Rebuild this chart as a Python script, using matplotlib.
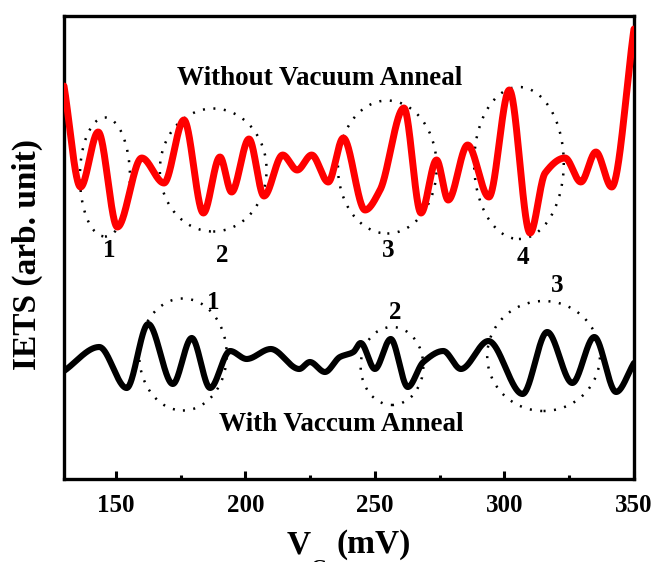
import numpy as np
import matplotlib
matplotlib.use("Agg")
import matplotlib.pyplot as plt
from matplotlib.patches import Ellipse
from matplotlib.ticker import MultipleLocator

plt.rcParams["font.family"] = ["Liberation Serif", "DejaVu Serif"]
plt.rcParams["font.weight"] = "bold"

# Gate voltage (mV) and IETS signal (arb. unit) at the extrema / shoulders
vg_raw = [130.0, 136.4, 143.2, 150.6, 160.0, 168.6, 176.3, 183.8, 190.2, 194.7,
          201.4, 207.2, 214.4, 220.0, 225.6, 232.0, 237.8, 246.2, 252.0, 261.2,
          267.8, 273.8, 278.3, 285.8, 294.0, 301.9, 309.9, 315.7, 323.4, 329.5,
          335.3, 341.4, 350.0]
iets_raw = [3.93, 2.92, 3.47, 2.52, 3.21, 2.96, 3.59, 2.66, 3.22, 2.87,
            3.40, 2.83, 3.24, 3.09, 3.24, 2.97, 3.41, 2.69, 2.89, 3.71,
            2.66, 3.19, 2.79, 3.34, 2.82, 3.89, 2.46, 3.06, 3.21, 2.97,
            3.27, 2.92, 4.50]

vg_ann = [130.0, 143.6, 154.2, 162.5, 172.0, 179.3, 186.4, 194.1, 200.5, 209.8,
          220.8, 224.9, 230.7, 236.5, 241.7, 244.5, 250.0, 256.1, 262.7, 268.7,
          276.4, 283.2, 293.8, 307.0, 316.5, 326.2, 334.7, 343.1, 350.0]
iets_ann = [1.08, 1.32, 0.91, 1.55, 0.95, 1.41, 0.91, 1.28, 1.20, 1.30,
            1.10, 1.17, 1.07, 1.22, 1.27, 1.36, 1.10, 1.40, 0.92, 1.17,
            1.28, 1.10, 1.38, 0.85, 1.47, 0.96, 1.42, 0.87, 1.16]

# Peak groups: (centre V, centre signal, width mV, height, label, label V, label signal)
groups_raw = [
    (145.8, 3.02, 19.3, 1.19, "1", 147.5, 2.29),
    (187.6, 3.09, 41.2, 1.23, "2", 191.1, 2.24),
    (254.8, 3.12, 38.1, 1.33, "3", 255.2, 2.29),
    (305.6, 3.16, 34.6, 1.52, "4", 307.0, 2.22),
]
groups_ann = [
    (175.9, 1.245, 33.8, 1.12, "1", 187.6, 1.77),
    (256.6, 1.13, 24.2, 0.78, "2", 257.7, 1.67),
    (315.1, 1.23, 43.5, 1.10, "3", 320.4, 1.94),
]

x_ticks = [150, 200, 250, 300, 350]


def pchip(x, y, xn):
    """Shape-preserving cubic Hermite curve through (x, y)."""
    x = np.asarray(x, float)
    y = np.asarray(y, float)
    h = np.diff(x)
    d = np.diff(y) / h
    m = np.zeros_like(y)
    for k in range(1, len(x) - 1):
        if d[k - 1] * d[k] > 0:
            w1 = 2 * h[k] + h[k - 1]
            w2 = h[k] + 2 * h[k - 1]
            m[k] = (w1 + w2) / (w1 / d[k - 1] + w2 / d[k])
    m[0] = d[0]
    m[-1] = d[-1]
    idx = np.clip(np.searchsorted(x, xn) - 1, 0, len(x) - 2)
    t = (xn - x[idx]) / h[idx]
    h00 = 2 * t**3 - 3 * t**2 + 1
    h10 = t**3 - 2 * t**2 + t
    h01 = -2 * t**3 + 3 * t**2
    h11 = t**3 - t**2
    return (h00 * y[idx] + h10 * h[idx] * m[idx]
            + h01 * y[idx + 1] + h11 * h[idx] * m[idx + 1])


W, H = 655, 562
fig = plt.figure(figsize=(W / 100, H / 100), dpi=100)
ax = fig.add_axes([0.0977, 0.1477, 0.8702, 0.8238])

xs = np.linspace(130, 350, 1500)
ax.plot(xs, pchip(vg_raw, iets_raw, xs), color="#ff0000", lw=5.0,
        solid_capstyle="round", zorder=3)
ax.plot(xs, pchip(vg_ann, iets_ann, xs), color="black", lw=4.4,
        solid_capstyle="round", zorder=3)

for cx, cy, w, hgt, lab, lx, ly in groups_raw + groups_ann:
    ax.add_patch(Ellipse((cx, cy), w, hgt, fill=False, edgecolor="black",
                         lw=1.8, linestyle=(0, (0.8, 3.4)), zorder=2))
    ax.text(lx, ly, lab, fontsize=18, fontweight="bold", ha="center",
            va="center", zorder=4)

ax.text(228.6, 4.01, "Without Vacuum Anneal", fontsize=19.5,
        fontweight="bold", ha="center", va="center")
ax.text(237.1, 0.54, "With Vaccum Anneal", fontsize=19.5,
        fontweight="bold", ha="center", va="center")

ax.set_xlim(130, 350)
ax.set_ylim(0, 4.63)
ax.set_xticks(x_ticks)
ax.xaxis.set_minor_locator(MultipleLocator(25))
ax.set_yticks([])
ax.tick_params(axis="x", which="major", direction="in", length=6, width=2.2,
               labelsize=18, pad=11)
ax.tick_params(axis="x", which="minor", direction="in", length=3, width=2.2)
for lbl in ax.get_xticklabels():
    lbl.set_fontweight("bold")
for sp in ax.spines.values():
    sp.set_linewidth(2.4)

# Axis titles, placed in figure pixels (subscript G sits low under the V)
fig.text(287 / W, 1 - 553 / H, "V", fontsize=24, fontweight="bold",
         ha="left", va="baseline")
fig.text(311 / W, 1 - 574 / H, "G", fontsize=15, fontweight="bold",
         ha="left", va="baseline")
fig.text(336 / W, 1 - 553 / H, "(mV)", fontsize=24, fontweight="bold",
         ha="left", va="baseline")
fig.text(27 / W, 1 - 254 / H, "IETS (arb. unit)", fontsize=24,
         fontweight="bold", rotation=90, ha="center", va="center")

fig.savefig("out.png", dpi=100)
